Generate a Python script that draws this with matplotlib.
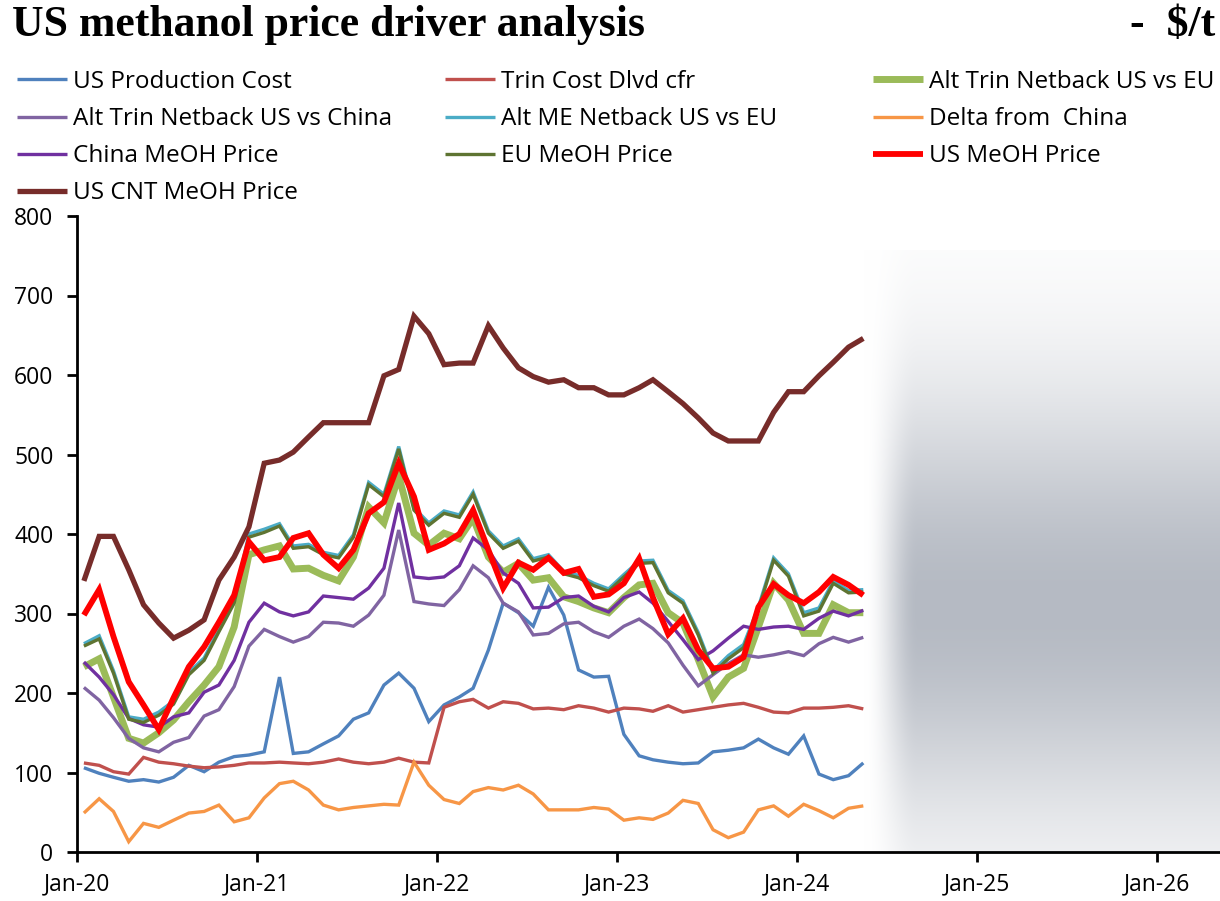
import numpy as np
import pandas as pd
import matplotlib
matplotlib.use("Agg")
import matplotlib.pyplot as plt
import matplotlib.dates as mdates

plt.rcParams['font.family'] = ['Open Sans', 'DejaVu Sans']

# monthly points, plotted mid-month (Jan-20 .. May-24)
dates = pd.date_range("2020-01-01", periods=53, freq="MS") + pd.Timedelta(days=14)

us_prod_cost = [106, 99, 94, 89, 91, 88, 94, 109, 101, 113, 120, 122, 126, 220, 124, 126, 136, 146,
                167, 175, 210, 225, 206, 164, 185, 195, 206, 254, 313, 301, 284, 333, 298, 229, 220, 221,
                148, 121, 116, 113, 111, 112, 126, 128, 131, 142, 131, 123, 146, 98, 91, 96, 112]
trin_cost = [112, 109, 101, 98, 119, 113, 111, 108, 106, 107, 109, 112, 112, 113, 112, 111, 113, 117,
             113, 111, 113, 118, 113, 112, 182, 189, 192, 181, 189, 187, 180, 181, 179, 184, 181, 176,
             181, 180, 177, 184, 176, 179, 182, 185, 187, 182, 176, 175, 181, 181, 182, 184, 180]
alt_trin_eu = [233, 243, 195, 143, 137, 150, 166, 189, 210, 233, 283, 374, 380, 385, 356, 357, 348, 341,
               371, 434, 414, 473, 401, 386, 401, 394, 420, 371, 352, 363, 342, 345, 321, 315, 307, 301,
               320, 336, 338, 301, 288, 242, 195, 220, 231, 283, 338, 317, 275, 275, 311, 301, 301]
alt_trin_china = [207, 191, 169, 143, 131, 126, 138, 144, 171, 179, 208, 259, 280, 271, 264, 271, 289, 288,
                  284, 298, 323, 405, 315, 312, 310, 330, 360, 345, 313, 302, 273, 275, 287, 289, 277, 270,
                  284, 293, 281, 263, 235, 209, 223, 237, 248, 245, 248, 252, 247, 262, 270, 264, 270]
alt_me_eu = [262, 272, 228, 170, 167, 176, 190, 226, 244, 280, 317, 400, 406, 413, 385, 387, 377, 373,
             399, 465, 450, 510, 433, 414, 429, 424, 453, 404, 385, 394, 369, 374, 353, 348, 338, 331,
             349, 366, 367, 329, 316, 276, 228, 247, 261, 308, 370, 350, 301, 307, 341, 329, 330]
delta_china = [49, 67, 51, 13, 36, 31, 40, 49, 51, 59, 38, 43, 68, 86, 89, 78, 59, 53,
               56, 58, 60, 59, 113, 84, 66, 61, 76, 81, 78, 84, 73, 53, 53, 53, 56, 54,
               40, 43, 41, 49, 65, 61, 28, 18, 25, 53, 58, 45, 60, 52, 43, 55, 58]
china_meoh = [239, 220, 198, 168, 160, 157, 170, 175, 201, 210, 241, 289, 313, 302, 297, 302, 322, 320,
              318, 332, 357, 439, 346, 344, 346, 360, 395, 380, 351, 338, 307, 308, 320, 322, 309, 302,
              320, 327, 313, 290, 267, 242, 253, 269, 284, 280, 283, 284, 280, 294, 303, 297, 304]
eu_meoh = [259, 268, 225, 167, 163, 172, 186, 223, 241, 277, 313, 396, 402, 410, 382, 384, 374, 370,
           396, 462, 447, 507, 430, 411, 426, 421, 450, 401, 382, 391, 366, 371, 350, 345, 335, 328,
           346, 363, 364, 326, 313, 273, 225, 243, 257, 305, 367, 347, 297, 303, 338, 326, 327]
us_meoh = [298, 330, 271, 214, 185, 154, 194, 233, 258, 289, 323, 390, 367, 371, 395, 401, 374, 357,
           380, 426, 440, 489, 447, 380, 388, 400, 430, 380, 332, 364, 355, 370, 351, 356, 321, 324,
           338, 369, 320, 274, 294, 254, 231, 233, 245, 308, 337, 323, 313, 327, 346, 336, 323]
us_cnt_meoh = [341, 397, 397, 355, 311, 288, 269, 279, 292, 342, 371, 409, 489, 493, 503, 522, 540, 540,
               540, 540, 599, 607, 674, 652, 613, 615, 615, 662, 634, 609, 598, 591, 594, 584, 584, 575,
               575, 584, 594, 579, 564, 546, 527, 517, 517, 517, 553, 579, 579, 599, 616, 635, 646]

series = [
    ("US Production Cost", us_prod_cost, "#4F81BD", 2.4),
    ("Trin Cost Dlvd cfr", trin_cost, "#C0504D", 2.4),
    ("Alt Trin Netback US vs EU", alt_trin_eu, "#9BBB59", 5.0),
    ("Alt Trin Netback US vs China", alt_trin_china, "#8064A2", 2.4),
    ("Alt ME Netback US vs EU", alt_me_eu, "#4BACC6", 2.4),
    ("Delta from  China", delta_china, "#F79646", 2.4),
    ("China MeOH Price", china_meoh, "#7030A0", 2.4),
    ("EU MeOH Price", eu_meoh, "#5E7432", 2.4),
    ("US MeOH Price", us_meoh, "#FF0000", 4.2),
    ("US CNT MeOH Price", us_cnt_meoh, "#772C2A", 3.8),
]


def main():
    fig = plt.figure(figsize=(12.2, 9.01), dpi=100)
    ax = fig.add_axes([77 / 1220, 49 / 901, 1 - 77 / 1220, 636 / 901])

    x_start = pd.Timestamp("2020-01-01")
    x_end = pd.Timestamp("2026-05-09")

    # grey forecast shading after the last data point
    gx0 = mdates.date2num(dates[-1] + pd.Timedelta(days=2))
    gx1 = mdates.date2num(x_end)
    gy = np.linspace(0, 757, 300)
    gxx = np.linspace(0, 1, 400)
    vert = np.exp(-((gy - 310) / 260.0) ** 2)
    horiz = np.clip(gxx * (gx1 - gx0) / 110.0, 0, 1)
    horiz = horiz * horiz * (3 - 2 * horiz)
    dark = vert[:, None] * horiz[None, :]
    img = np.ones((300, 400, 3))
    for k, c in enumerate([181, 186, 195]):
        img[:, :, k] = 1 - dark * (255 - c) / 255.0
    ax.imshow(img, extent=[gx0, gx1, 0, 757], origin="lower", aspect="auto",
              interpolation="bilinear", zorder=0)

    lines = {}
    for label, vals, color, lw in series:
        ln, = ax.plot(dates, vals, color=color, lw=lw, label=label, zorder=2,
                      solid_joinstyle="miter", solid_capstyle="butt")
        lines[label] = ln

    ax.set_xlim(x_start, x_end)
    ax.set_ylim(0, 800)
    ax.set_yticks(range(0, 801, 100))
    ax.xaxis.set_major_locator(mdates.YearLocator())
    ax.xaxis.set_major_formatter(mdates.DateFormatter("%b-%y"))

    for s in ["top", "right"]:
        ax.spines[s].set_visible(False)
    for s in ["left", "bottom"]:
        ax.spines[s].set_linewidth(2)
    ax.tick_params(axis="both", labelsize=16.5, width=2, length=7, direction="out")
    ax.tick_params(axis="y", pad=10)
    ax.tick_params(axis="x", pad=8)

    # Title
    fig.text(12 / 1220, 1 - 5 / 901, "US methanol price driver analysis", fontsize=31.5,
             fontweight="bold", family="Liberation Serif", va="top", ha="left")
    fig.text(1 - 5 / 1220, 1 - 5 / 901, "-  $/t", fontsize=31.5,
             fontweight="bold", family="Liberation Serif", va="top", ha="right")

    # Legend in three columns, filled row by row
    cols = [
        ["US Production Cost", "Alt Trin Netback US vs China", "China MeOH Price", "US CNT MeOH Price"],
        ["Trin Cost Dlvd cfr", "Alt ME Netback US vs EU", "EU MeOH Price"],
        ["Alt Trin Netback US vs EU", "Delta from  China", "US MeOH Price"],
    ]
    col_x = [17, 445, 873]
    for names, cx in zip(cols, col_x):
        fig.legend([lines[n] for n in names], names, loc="upper left",
                   bbox_to_anchor=(cx / 1220, 1 - 70 / 901), frameon=False,
                   fontsize=17.5, handlelength=2.06, handletextpad=0.25,
                   labelspacing=0.54, borderpad=0, borderaxespad=0)

    plt.savefig("out.png", dpi=100)


main()
